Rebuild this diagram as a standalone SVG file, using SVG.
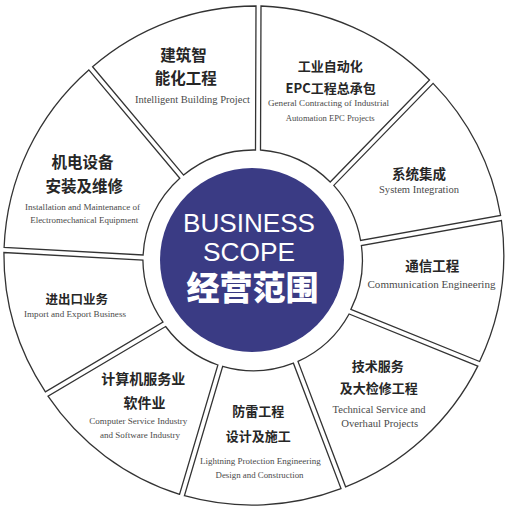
<svg xmlns="http://www.w3.org/2000/svg" width="508" height="511" viewBox="0 0 508 511">
<style>
.seg{fill:#fff;stroke:#333;stroke-width:1.3;stroke-linejoin:miter}
.cn{font-family:"Noto Sans CJK SC","Liberation Sans",sans-serif;font-weight:700;fill:#262626;text-anchor:middle}
.en{font-family:"Liberation Serif","Times New Roman",serif;fill:#4a4a4a;text-anchor:middle}
.c1{font-family:"Liberation Sans",Arial,sans-serif;fill:#fff;text-anchor:middle}
</style>
<rect width="508" height="511" fill="#fff"/>
<g id="connectors"></g>
<g id="seg-epc">
<path class="seg" d="M261,6 A249,249 0 0 1 429.5,80 L330.2,182 A110,110 0 0 0 260.5,150 Z"/>
<text class="cn" x="330.3" y="71" font-size="13">工业自动化</text>
<text class="cn" x="330.7" y="92.5" font-size="13">EPC工程总承包</text>
<text class="en" x="328.5" y="106" font-size="9" textLength="121" lengthAdjust="spacingAndGlyphs">General Contracting of Industrial</text>
<text class="en" x="330.2" y="121" font-size="9" textLength="89" lengthAdjust="spacingAndGlyphs">Automation EPC Projects</text>
</g>
<g id="seg-system">
<path class="seg" d="M433.1,83.4 A249,249 0 0 1 500.6,215.5 L360.6,240.5 A110,110 0 0 0 333.8,185.4 Z"/>
<text class="cn" x="419" y="179" font-size="13.5">系统集成</text>
<text class="en" x="419" y="193" font-size="10.5" textLength="80" lengthAdjust="spacingAndGlyphs">System Integration</text>
</g>
<g id="seg-comm">
<path class="seg" d="M501.4,220.5 A249,249 0 0 1 479.6,361.5 L350.9,309.4 A110,110 0 0 0 361.4,245.5 Z"/>
<text class="cn" x="432.3" y="271" font-size="13.5">通信工程</text>
<text class="en" x="431.5" y="288" font-size="11" textLength="128" lengthAdjust="spacingAndGlyphs">Communication Engineering</text>
</g>
<g id="seg-tech">
<path class="seg" d="M477.8,366.1 A249,249 0 0 1 345.6,486.8 L298,361.4 A110,110 0 0 0 349.1,314 Z"/>
<text class="cn" x="377.8" y="371" font-size="13">技术服务</text>
<text class="cn" x="378.7" y="392.5" font-size="13">及大检修工程</text>
<text class="en" x="379" y="413" font-size="10.5" textLength="93" lengthAdjust="spacingAndGlyphs">Technical Service and</text>
<text class="en" x="379.7" y="426.5" font-size="10.5" textLength="77" lengthAdjust="spacingAndGlyphs">Overhaul Projects</text>
</g>
<g id="seg-lightning">
<path class="seg" d="M341,488.6 A249,249 0 0 1 184.4,495.7 L222.7,366.4 A110,110 0 0 0 293.4,363.2 Z"/>
<text class="cn" x="258.3" y="416" font-size="13">防雷工程</text>
<text class="cn" x="258.3" y="441" font-size="13">设计及施工</text>
<text class="en" x="260.3" y="464" font-size="9" textLength="120.7" lengthAdjust="spacingAndGlyphs">Lightning Protection Engineering</text>
<text class="en" x="259.5" y="478" font-size="9" textLength="88" lengthAdjust="spacingAndGlyphs">Design and Construction</text>
</g>
<g id="seg-computer">
<path class="seg" d="M179.6,494.3 A249,249 0 0 1 48,396.2 L165.6,326.5 A110,110 0 0 0 217.9,365 Z"/>
<text class="cn" x="143.3" y="384" font-size="14">计算机服务业</text>
<text class="cn" x="144.5" y="407.5" font-size="14">软件业</text>
<text class="en" x="138.3" y="424" font-size="9" textLength="98" lengthAdjust="spacingAndGlyphs">Computer Service Industry</text>
<text class="en" x="140" y="437.5" font-size="9" textLength="80" lengthAdjust="spacingAndGlyphs">and Software Industry</text>
</g>
<g id="seg-import">
<path class="seg" d="M45.4,391.8 A249,249 0 0 1 3.9,252.5 L142.9,260 A110,110 0 0 0 163,322.1 Z"/>
<text class="cn" x="76.7" y="304" font-size="12.5">进出口业务</text>
<text class="en" x="75" y="317" font-size="9" textLength="102" lengthAdjust="spacingAndGlyphs">Import and Export Business</text>
</g>
<g id="seg-electro">
<path class="seg" d="M4.1,247.5 A249,249 0 0 1 88.8,69.9 L179.8,178.3 A110,110 0 0 0 143.1,255 Z"/>
<text class="cn" x="82.5" y="168" font-size="15.5">机电设备</text>
<text class="cn" x="84.2" y="192" font-size="15.5">安装及维修</text>
<text class="en" x="82.5" y="210" font-size="9" textLength="115" lengthAdjust="spacingAndGlyphs">Installation and Maintenance of</text>
<text class="en" x="84.2" y="223" font-size="9" textLength="108" lengthAdjust="spacingAndGlyphs">Electromechanical Equipment</text>
</g>
<g id="seg-building">
<path class="seg" d="M92.6,66.7 A249,249 0 0 1 256,6 L255.5,150 A110,110 0 0 0 183.6,175.1 Z"/>
<text class="cn" x="183.5" y="60.5" font-size="15.5">建筑智</text>
<text class="cn" x="185.8" y="84" font-size="15.5">能化工程</text>
<text class="en" x="192.5" y="103" font-size="10.5" textLength="115" lengthAdjust="spacingAndGlyphs">Intelligent Building Project</text>
</g>
<g id="center">
<circle cx="252" cy="260" r="92" fill="#3a3b84"/>
<text class="c1" x="249" y="232" font-size="25.5" textLength="132" lengthAdjust="spacingAndGlyphs">BUSINESS</text>
<text class="c1" x="249" y="261" font-size="25.5" textLength="92" lengthAdjust="spacingAndGlyphs">SCOPE</text>
<text class="cn" x="252.5" y="299.5" font-size="33" style="fill:#fff;font-weight:900">经营范围</text>
</g>
</svg>
